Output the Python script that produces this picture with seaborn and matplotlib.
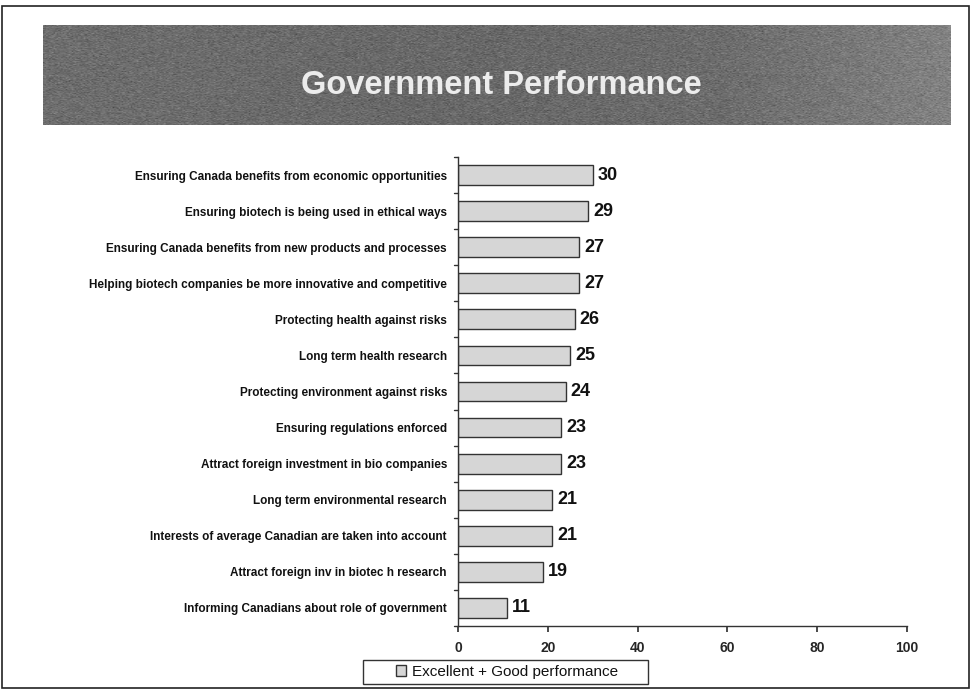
import numpy as np
import pandas as pd
import matplotlib
matplotlib.use("Agg")
import matplotlib.pyplot as plt
from matplotlib.patches import Rectangle
import seaborn as sns

categories = [
    "Ensuring Canada benefits from economic opportunities",
    "Ensuring biotech is being used in ethical ways",
    "Ensuring Canada benefits from new products and processes",
    "Helping biotech companies be more innovative and competitive",
    "Protecting health against risks",
    "Long term health research",
    "Protecting environment against risks",
    "Ensuring regulations enforced",
    "Attract foreign investment in bio companies",
    "Long term environmental research",
    "Interests of average Canadian are taken into account",
    "Attract foreign inv in biotec h research",
    "Informing Canadians about role of government",
]
values = [30, 29, 27, 27, 26, 25, 24, 23, 23, 21, 21, 19, 11]
series_name = "Excellent + Good performance"
xticks = [0, 20, 40, 60, 80, 100]

df = pd.DataFrame({"item": categories, "pct": values})

sns.set_theme(style="white")
plt.rcParams["font.family"] = ["Liberation Sans", "DejaVu Sans"]

fig = plt.figure(figsize=(9.71, 6.89), dpi=100)
fig.patch.set_facecolor("white")

# outer slide frame
fig.patches.append(Rectangle((2 / 971, 1 / 689), 967 / 971, 682 / 689,
                             transform=fig.transFigure, fill=False,
                             edgecolor="#222222", linewidth=1.2))

# title banner with a grey textured gradient
bax = fig.add_axes([43 / 971, 1 - 125 / 689, 907 / 971, 100 / 689])
xs = np.linspace(0, 1, 600)
shade = 0.43 - 0.02 * np.exp(-((xs - 0.45) / 0.25) ** 2) + 0.08 * np.clip((xs - 0.75) / 0.25, 0, 1)
rng = np.random.default_rng(3)
grain = rng.normal(0, 0.035, (100, 600))
grad = np.clip(np.tile(shade, (100, 1)) + grain, 0, 1)
bax.imshow(grad, cmap="gray", vmin=0, vmax=1, aspect="auto", extent=[0, 1, 0, 1],
           interpolation="bilinear")
bax.set_axis_off()
bax.text(0.505, 0.4, "Government Performance", color="#ececec", fontsize=23.5,
         fontweight="bold", ha="center", va="center", transform=bax.transAxes)

# chart
ax = fig.add_axes([458 / 971, 1 - 626 / 689, 449 / 971, 469 / 689])
sns.barplot(data=df, y="item", x="pct", orient="h", ax=ax, color="#d6d6d6",
            edgecolor="#333333", linewidth=1.0, width=0.55, label=series_name,
            saturation=1)
for i, v in enumerate(values):
    ax.text(v + 1.1, i, str(v), va="center", ha="left", fontsize=13,
            fontweight="bold", color="#111111")

ax.set_xlim(0, 100)
ax.set_xticks(xticks)
ax.set_xticklabels([str(t) for t in xticks], fontsize=10, fontweight="bold")
ax.set_ylim(len(categories) - 0.5, -0.5)
ax.set_yticks(range(len(categories)))
ax.set_yticklabels(categories, fontsize=8.5, fontweight="bold", color="#111111")
ax.set_xlabel("")
ax.set_ylabel("")
for s in ["top", "right"]:
    ax.spines[s].set_visible(False)
for s in ["left", "bottom"]:
    ax.spines[s].set_color("#333333")
    ax.spines[s].set_linewidth(1.0)
ax.tick_params(axis="y", length=0, pad=8)
ax.tick_params(axis="x", length=4, direction="out", color="#333333", pad=7,
               bottom=True)
# category separators on the value axis
for b in np.arange(-0.5, len(categories), 1.0):
    ax.plot([-0.8, 0], [b, b], color="#333333", lw=1.0, clip_on=False)

# legend with a wide rectangular frame below the axis
leg = ax.legend(loc="center", bbox_to_anchor=(507 / 971, 1 - 672 / 689),
                bbox_transform=fig.transFigure, frameon=False,
                fontsize=11, handlelength=0.7, handleheight=0.7,
                borderpad=0.3, handletextpad=0.4, borderaxespad=0)
for t in leg.get_texts():
    t.set_color("#111111")
fig.patches.append(Rectangle((363 / 971, 1 - 684 / 689), 285 / 971, 24 / 689,
                             transform=fig.transFigure, fill=False,
                             edgecolor="#333333", linewidth=1.0))

fig.savefig("out.png", dpi=100, facecolor="white")
